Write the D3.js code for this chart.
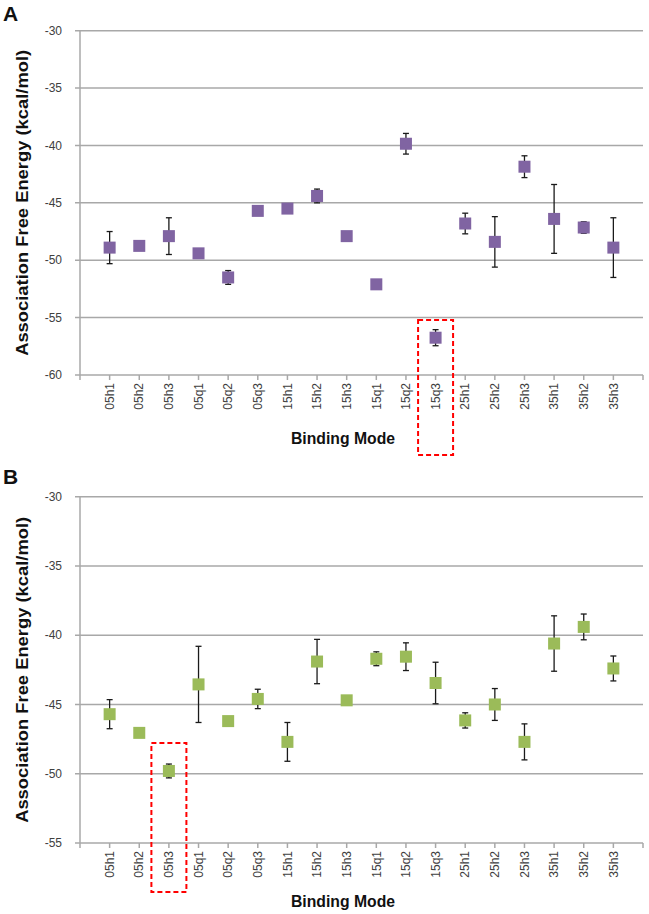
<!DOCTYPE html>
<html>
<head>
<meta charset="utf-8">
<script src="https://cdn.jsdelivr.net/npm/d3@7"></script>
<style>
  html, body { margin: 0; padding: 0; background: #fff; }
  svg { display: block; }
  text { font-family: "Liberation Sans", Arial, sans-serif; }
</style>
</head>
<body>
<div id="chart"></div>
<script>
// ---- data ----
const categories = ["05h1","05h2","05h3","05q1","05q2","05q3","15h1","15h2","15h3","15q1","15q2","15q3","25h1","25h2","25h3","35h1","35h2","35h3"];
const valuesA = [-48.9,-48.75,-47.9,-49.4,-51.5,-45.7,-45.5,-44.4,-47.9,-52.1,-39.85,-56.75,-46.8,-48.4,-41.85,-46.4,-47.15,-48.9];
const errorsA = [1.4,0,1.6,0,0.6,0,0,0.6,0,0,0.9,0.7,0.9,2.2,0.95,3.0,0.5,2.6];
const valuesB = [-45.7,-47.05,-49.8,-43.55,-46.2,-44.6,-47.7,-41.9,-44.7,-41.7,-41.55,-43.45,-46.15,-45.0,-47.7,-40.6,-39.4,-42.4];
const errorsB = [1.05,0,0.5,2.75,0,0.7,1.4,1.6,0,0.5,1.0,1.5,0.55,1.15,1.3,2.0,0.93,0.9];
const yTicksA = [-30,-35,-40,-45,-50,-55,-60];
const yTicksB = [-30,-35,-40,-45,-50,-55];
const panelLabels = ["A","B"];
const xTitle = "Binding Mode";
const yTitle = "Association Free Energy (kcal/mol)";
const highlightA = "15q3";
const highlightB = "05h3";

// ---- drawing ----
const W = 649, H = 914;
const svg = d3.select("#chart").append("svg").attr("width", W).attr("height", H);
svg.append("rect").attr("width", W).attr("height", H).attr("fill", "#fff");

const gridColor = "#a8a8a8";
const tickColor = "#404040";

function panel(opts) {
  const g = svg.append("g");
  const x = d3.scaleLinear().domain([0, categories.length + 1]).range([80, 643]);
  const y = d3.scaleLinear().domain(opts.yDomain).range(opts.yRange);
  const yBottom = y(opts.yDomain[0]);

  g.selectAll(".grid").data(opts.yTicks).enter().append("line")
    .attr("x1", 75).attr("x2", x(categories.length + 1))
    .attr("y1", d => y(d)).attr("y2", d => y(d))
    .attr("stroke", gridColor).attr("stroke-width", 1.5);

  g.append("line").attr("x1", x(0)).attr("x2", x(0))
    .attr("y1", y(opts.yDomain[1])).attr("y2", yBottom)
    .attr("stroke", gridColor).attr("stroke-width", 1.5);

  g.selectAll(".ylab").data(opts.yTicks).enter().append("text")
    .attr("x", 62).attr("y", d => y(d)).attr("dy", "0.35em")
    .attr("text-anchor", "end").attr("font-size", 12).attr("fill", tickColor)
    .text(d => d);

  const xt = d3.range(0, categories.length + 2);
  g.selectAll(".xt").data(xt).enter().append("line")
    .attr("x1", d => x(d)).attr("x2", d => x(d))
    .attr("y1", yBottom).attr("y2", yBottom + 5)
    .attr("stroke", gridColor).attr("stroke-width", 1.5);

  g.selectAll(".xlab").data(categories).enter().append("text")
    .attr("transform", (d, i) => `translate(${x(i + 1)},${yBottom + 8}) rotate(-90)`)
    .attr("text-anchor", "end").attr("dy", "0.35em")
    .attr("font-size", 12).attr("fill", tickColor)
    .text(d => d);

  const eb = g.selectAll(".eb").data(opts.values.map((v, i) => ({v, e: opts.errors[i], i})).filter(d => d.e > 0))
    .enter().append("g").attr("stroke", "#1a1a1a").attr("stroke-width", 1.3);
  eb.append("line").attr("x1", d => x(d.i + 1)).attr("x2", d => x(d.i + 1))
    .attr("y1", d => y(d.v + d.e)).attr("y2", d => y(d.v - d.e));
  eb.append("line").attr("x1", d => x(d.i + 1) - 3).attr("x2", d => x(d.i + 1) + 3)
    .attr("y1", d => y(d.v + d.e)).attr("y2", d => y(d.v + d.e));
  eb.append("line").attr("x1", d => x(d.i + 1) - 3).attr("x2", d => x(d.i + 1) + 3)
    .attr("y1", d => y(d.v - d.e)).attr("y2", d => y(d.v - d.e));

  const s = 12;
  g.selectAll(".pt").data(opts.values).enter().append("rect")
    .attr("x", (d, i) => x(i + 1) - s / 2).attr("y", d => y(d) - s / 2)
    .attr("width", s).attr("height", s).attr("fill", opts.color);

  const hi = categories.indexOf(opts.highlight) + 1;
  g.append("rect")
    .attr("x", x(hi) - 17.5).attr("y", opts.boxTop)
    .attr("width", 35).attr("height", opts.boxBottom - opts.boxTop)
    .attr("fill", "none").attr("stroke", "#ff0000").attr("stroke-width", 2)
    .attr("stroke-dasharray", "5,3");

  g.append("text").attr("x", 343).attr("y", opts.xTitleY)
    .attr("text-anchor", "middle").attr("font-size", 16).attr("font-weight", "bold")
    .attr("textLength", 104).attr("lengthAdjust", "spacingAndGlyphs")
    .attr("fill", "#111").text(xTitle);
  const midY = (opts.yRange[0] + opts.yRange[1]) / 2;
  g.append("text").attr("transform", `translate(22,${midY}) rotate(-90)`)
    .attr("text-anchor", "middle").attr("dy", "0.35em")
    .attr("font-size", 16).attr("font-weight", "bold").attr("fill", "#111")
    .attr("textLength", 306).attr("lengthAdjust", "spacingAndGlyphs")
    .text(yTitle);

  g.append("text").attr("x", 3).attr("y", opts.labelY)
    .attr("font-size", 21).attr("font-weight", "bold").attr("fill", "#111")
    .text(opts.label);
}

panel({
  values: valuesA, errors: errorsA, yTicks: yTicksA,
  yDomain: [-60, -30], yRange: [375, 30.7], color: "#8064a2",
  highlight: highlightA, boxTop: 320, boxBottom: 455,
  xTitleY: 444, labelY: 21, label: panelLabels[0]
});
panel({
  values: valuesB, errors: errorsB, yTicks: yTicksB,
  yDomain: [-55, -30], yRange: [843, 496.7], color: "#9bbb59",
  highlight: highlightB, boxTop: 743, boxBottom: 892,
  xTitleY: 907, labelY: 484, label: panelLabels[1]
});
</script>
</body>
</html>
